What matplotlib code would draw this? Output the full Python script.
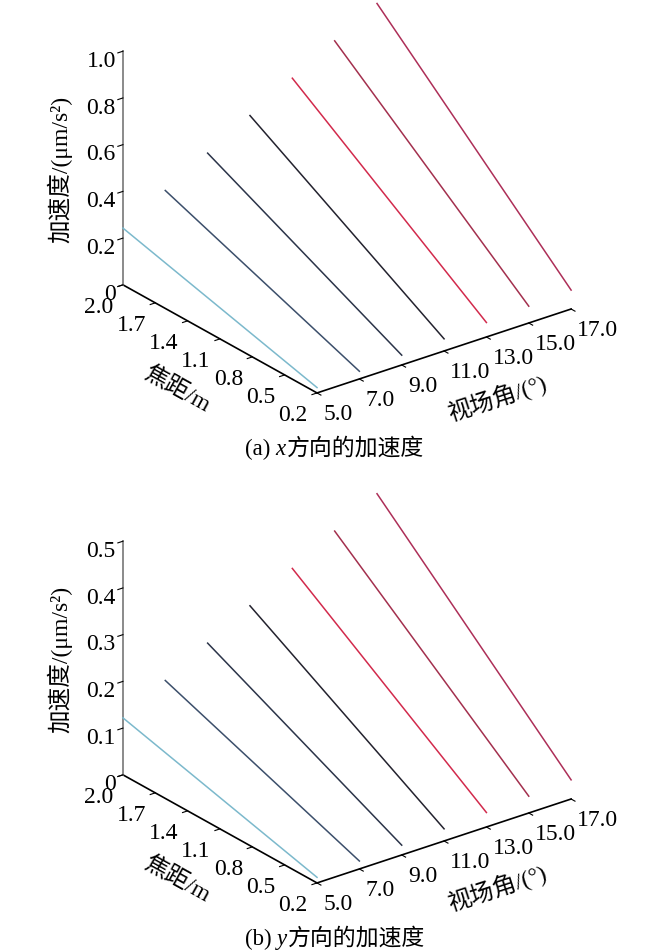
import numpy as np
import matplotlib.pyplot as plt
from mpl_toolkits.mplot3d import proj3d

plt.rcParams['font.family'] = ['Liberation Serif', 'Noto Sans CJK SC']
plt.rcParams['font.size'] = 17

# field of view (deg) of each curve
fov = [5.0, 7.0, 9.0, 11.0, 13.0, 15.0, 17.0]
# every curve is a straight line between these two focal lengths (m)
focal = [0.2, 2.0]
acc_x_near = [0.023, 0.033, 0.042, 0.052, 0.062, 0.072, 0.081]
acc_x_far = [0.243, 0.344, 0.444, 0.545, 0.645, 0.745, 0.845]
acc_y_near = [0.012, 0.017, 0.021, 0.026, 0.031, 0.036, 0.041]
acc_y_far = [0.122, 0.172, 0.222, 0.272, 0.322, 0.372, 0.422]

focal_ticks = [0.2, 0.5, 0.8, 1.1, 1.4, 1.7, 2.0]
acc_x_ticks = [0, 0.2, 0.4, 0.6, 0.8, 1.0]
acc_y_ticks = [0, 0.1, 0.2, 0.3, 0.4, 0.5]

line_colors = ['#7cb9cc', '#3c4f6b', '#2b3449', '#23222e', '#d22a4c', '#a3304e', '#ad2f58']

W, H = 650, 950
fig = plt.figure(figsize=(W / 100, H / 100), dpi=100)


def panel(acc_near, acc_far, zticks, dy, tag, var):
    ax = fig.add_axes([0.1, 0.3, 0.6, 0.6 * W / H], projection='3d', proj_type='ortho')
    ax.set_facecolor('none')
    ax.view_init(elev=25.4, azim=-127.6)
    ax.set_box_aspect((1.24, 1.23, 1.0))

    for f, a0, a1, c in zip(fov, acc_near, acc_far, line_colors):
        ax.plot([f, f], focal, [a0, a1], color=c, lw=1.1, clip_on=False)

    ax.set_xlim(fov[0], fov[-1])
    ax.set_ylim(focal_ticks[0], focal_ticks[-1])
    ax.set_zlim(zticks[0], zticks[-1])
    ax.set_xticks(fov, [f'{v:.1f}' for v in fov], ha='left')
    ax.set_yticks(focal_ticks, [f'{v:.1f}' for v in focal_ticks], ha='right')
    ax.set_zticks(zticks, ['0'] + [f'{v:.1f}' for v in zticks[1:]], ha='right')
    ax.grid(False)
    for axis in (ax.xaxis, ax.yaxis, ax.zaxis):
        axis.set_pane_color((1, 1, 1, 0))
        axis.pane.set_edgecolor((1, 1, 1, 0))
        axis._axinfo['tick']['inward_factor'] = 0.25
        axis._axinfo['tick']['outward_factor'] = 0.0
        axis.line.set_color('k')
        axis.line.set_linewidth(1.2)
    ax.zaxis.line.set_color('#777777')
    ax.xaxis.set_tick_params(pad=-2)
    ax.yaxis.set_tick_params(pad=-1)
    ax.zaxis.set_tick_params(pad=-5)

    # move the square axes so the box corners land where they are in the figure
    fig.canvas.draw()
    zmax = zticks[-1]
    pts = np.array([[5, 2.0, 0], [5, 0.2, 0], [17, 0.2, 0], [5, 2.0, zmax]])
    tgt = np.array([[123, 285], [317, 393], [571, 309], [123, 51]], dtype=float)
    tgt[:, 1] = H - (tgt[:, 1] + dy)
    xs, ys, _ = proj3d.proj_transform(pts[:, 0], pts[:, 1], pts[:, 2], ax.M)
    disp = ax.transData.transform(np.column_stack([xs, ys]))
    bb = ax.get_position().transformed(fig.transFigure)
    c0 = np.array([bb.x0 + bb.width / 2, bb.y0 + bb.height / 2])
    u = (disp - c0) / bb.width
    du = u - u.mean(axis=0)
    dt = tgt - tgt.mean(axis=0)
    s = (du * dt).sum() / (du * du).sum()
    c = tgt.mean(axis=0) - s * u.mean(axis=0)
    ax.set_position([(c[0] - s / 2) / W, (c[1] - s / 2) / H, s / W, s / H])

    # axis titles
    fig.text(60 / W, 1 - (169 + dy) / H, '加速度/(μm/s²)', rotation=90, ha='center', va='center')
    fig.text(176 / W, 1 - (390 + dy) / H, '焦距/m', rotation=-29, ha='center', va='center',
             rotation_mode='anchor')
    fig.text(497 / W, 1 - (398 + dy) / H, '视场角/(°)', rotation=18, ha='center', va='center',
             rotation_mode='anchor')

    # caption, with the italic axis letter
    r = fig.canvas.get_renderer()
    x = 245
    for txt, st, gap in [(f'({tag})', 'normal', 5), (var, 'italic', 1), ('方向的加速度', 'normal', 0)]:
        t = fig.text(x / W, 1 - (455 + dy) / H, txt, style=st, va='baseline', fontsize=16.5)
        x += t.get_window_extent(r).width + gap
    return ax


panel(acc_x_near, acc_x_far, acc_x_ticks, 0, 'a', 'x')
panel(acc_y_near, acc_y_far, acc_y_ticks, 490, 'b', 'y')

fig.savefig('out.png', dpi=100)
